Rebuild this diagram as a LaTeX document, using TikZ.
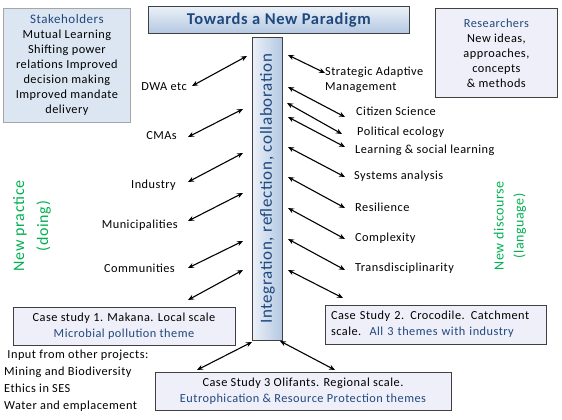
\documentclass[tikz,border=0pt]{standalone}
\usepackage{fontspec}
\setmainfont{Carlito}[LetterSpace=4]
\usetikzlibrary{arrows.meta}
\definecolor{dblue}{HTML}{1F497D}
\definecolor{grn}{HTML}{00B050}
\definecolor{lav}{HTML}{EFEFF9}
\definecolor{skblue}{HTML}{DCE6F2}
\definecolor{bord}{HTML}{404040}
\definecolor{shade1}{HTML}{EAF0F8}
\definecolor{shade2}{HTML}{B4C8E2}
\begin{document}
\begin{tikzpicture}[x=1pt,y=-1pt,
  lab/.style={font=\fontsize{12.3}{15}\selectfont, inner sep=0pt},
  dbl/.style={{Stealth[length=6pt,width=5pt]}-{Stealth[length=6pt,width=5pt]}, line width=1.1pt},
  casebox/.style={draw=bord, fill=lav, line width=0.8pt, font=\fontsize{12.3}{16}\selectfont, inner sep=0pt}]
\useasboundingbox (0,0) rectangle (562,420);

% top boxes
\node[draw=gray!70, fill=skblue, line width=0.8pt, minimum width=127pt, minimum height=114pt, anchor=north west,
      align=center, font=\fontsize{12.3}{15}\selectfont, inner sep=0pt] (stake) at (3,8)
  {{\fontsize{13}{15}\selectfont\color{dblue}Stakeholders}\\Mutual Learning\\Shifting power\\relations Improved\\decision making\\Improved mandate\\delivery};
\node[draw=bord, top color=shade1, bottom color=shade2, line width=0.8pt, minimum width=261pt, minimum height=27pt,
      anchor=north west, inner sep=0pt, font=\fontsize{16.5}{18}\selectfont\bfseries, text=dblue] (title) at (148,6)
  {Towards a New Paradigm};
\node[draw=bord, fill=lav, line width=0.8pt, minimum width=122pt, minimum height=89pt, anchor=north west,
      align=center, font=\fontsize{12.3}{15}\selectfont, inner sep=0pt] (res) at (435,8)
  {{\color{dblue}Researchers}\\New ideas,\\approaches,\\concepts\\\& methods};

% vertical bar
\node[draw=bord, left color=shade1, right color=shade2, line width=0.8pt, minimum width=30pt, minimum height=303pt,
      anchor=north west, inner sep=0pt] (bar) at (252,37) {};
\node[rotate=90, text=dblue, font=\fontsize{17}{18}\selectfont, inner sep=0pt] (bartext) at (bar.center)
  {Integration, reflection, collaboration};

% green side labels
\node[rotate=90, text=grn, align=center, font=\fontsize{16}{24}\selectfont, inner sep=0pt] (npr) at (32,226)
  {New practice\\(doing)};
\node[rotate=90, text=grn, align=center, font=\fontsize{14}{20}\selectfont, inner sep=0pt] (ndi) at (510,226)
  {New discourse\\(language)};

% left labels
\node[lab, anchor=east] (dwa) at (187,87) {DWA etc};
\node[lab, anchor=east] (cma) at (177,136) {CMAs};
\node[lab, anchor=east] (ind) at (176,185) {Industry};
\node[lab, anchor=east] (mun) at (178,225) {Municipalities};
\node[lab, anchor=east] (com) at (175,268) {Communities};

% right labels
\node[lab, anchor=west, align=left] (sam) at (325,79.5) {Strategic Adaptive\\Management};
\node[lab, anchor=west] (cit) at (356,111) {Citizen Science};
\node[lab, anchor=west] (pol) at (357,132) {Political ecology};
\node[lab, anchor=west] (lea) at (355,150) {Learning \& social learning};
\node[lab, anchor=west] (sys) at (354,176) {Systems analysis};
\node[lab, anchor=west] (resi) at (355,207) {Resilience};
\node[lab, anchor=west] (cpx) at (355,238) {Complexity};
\node[lab, anchor=west] (trd) at (355,268) {Transdisciplinarity};

% case study boxes
\node[casebox, minimum width=222pt, minimum height=38pt, align=center] (cs1) at (124,326.5)
  {Case study 1. Makana. Local scale\\{\color{dblue}Microbial pollution theme}};
\node[casebox, minimum width=221pt, minimum height=39pt, text width=209pt, align=left] (cs2) at (435.5,324.5)
  {Case Study 2. Crocodile. Catchment\\scale.\ \ {\color{dblue}All 3 themes with industry}};
\node[casebox, minimum width=296pt, minimum height=38pt, align=center] (cs3) at (303,391)
  {Case Study 3 Olifants. Regional scale.\\{\color{dblue}Eutrophication \& Resource Protection themes}};

% input text
\node[anchor=north west, align=left, font=\fontsize{12.3}{17}\selectfont, inner sep=0pt] (inp) at (4,350)
  {\ Input from other projects:\\Mining and Biodiversity\\Ethics in SES\\Water and emplacement};

% arrow end coordinates (left)
\coordinate (l1a) at (192,86);  \coordinate (l1b) at (247,56);
\coordinate (l2a) at (188,137); \coordinate (l2b) at (243,109);
\coordinate (l3a) at (188,182); \coordinate (l3b) at (243,153);
\coordinate (l4a) at (188,221); \coordinate (l4b) at (243,193);
\coordinate (l5a) at (188,268); \coordinate (l5b) at (243,241);
\coordinate (l6a) at (188,300); \coordinate (l6b) at (243,270);
% right
\coordinate (r1a) at (288,55);  \coordinate (r1b) at (325,73);
\coordinate (r2a) at (288,87);  \coordinate (r2b) at (345,117);
\coordinate (r3a) at (287,103); \coordinate (r3b) at (342,134);
\coordinate (r4a) at (288,117); \coordinate (r4b) at (345,147);
\coordinate (r5a) at (288,147); \coordinate (r5b) at (345,177);
\coordinate (r6a) at (288,177); \coordinate (r6b) at (345,208);
\coordinate (r7a) at (288,208); \coordinate (r7b) at (345,239);
\coordinate (r8a) at (288,239); \coordinate (r8b) at (345,270);
\coordinate (r9a) at (288,270); \coordinate (r9b) at (343,298);
% bottom
\coordinate (b1a) at (197,370); \coordinate (b1b) at (252,342);
\coordinate (b2a) at (280,341); \coordinate (b2b) at (335,370);

\foreach \p in {l1,l2,l3,l4,l5,l6,r1,r2,r3,r4,r5,r6,r7,r8,r9,b1,b2}
  \draw[dbl] (\p a) -- (\p b);
\end{tikzpicture}
\end{document}
